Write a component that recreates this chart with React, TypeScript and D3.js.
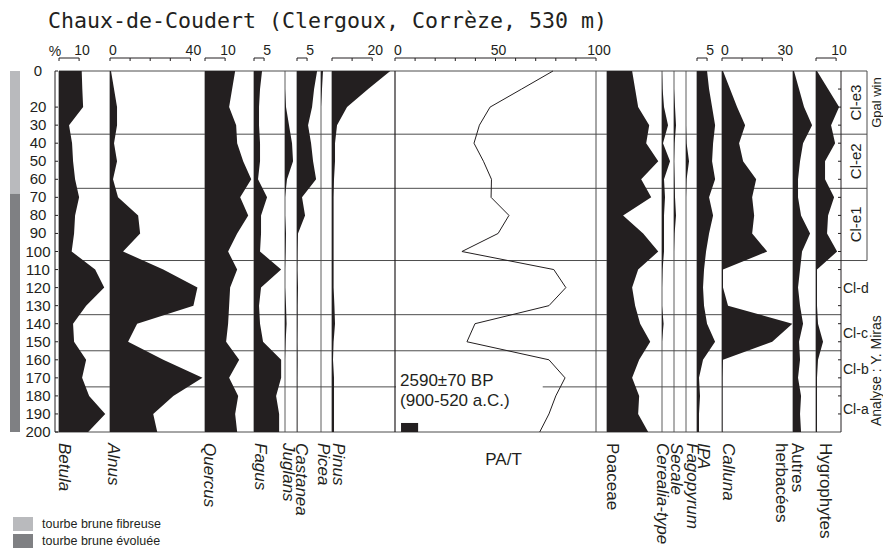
import React from 'react';
import * as d3 from 'd3';

// sample depths (cm)
const depths = [0, 10, 20, 30, 40, 50, 60, 70, 80, 90, 100, 110, 120, 130, 140, 150, 160, 170, 180, 190, 200];

// pollen percentages, one value per depth
const betula = [11.3, 11.6, 12, 5, 6.5, 7, 8, 10, 8, 7.5, 6.3, 18, 22.5, 13.5, 7, 7.5, 13.5, 11.5, 15, 23, 14.5];
const alnus = [0.5, 2, 3.5, 3.5, 2, 3.5, 1.5, 4, 14, 15, 6.5, 26.5, 43.5, 41.5, 13.5, 9, 26.5, 46, 31.5, 21.5, 23.5];
const quercus = [15, 13.5, 12, 15.5, 16, 19, 23, 17.5, 21.5, 16, 11.5, 16, 12.5, 12, 11.5, 10.5, 17, 12, 16.5, 15, 16];
const fagus = [4, 3, 2.5, 2.5, 3, 3, 2, 6.5, 3.5, 3.5, 3, 13.5, 3.5, 2.5, 3, 4.5, 13.5, 13.5, 11, 12.5, 12.5];
const juglans = [0, 0, 0.5, 2, 3.5, 4, 1, 0, 0, 0.5, 0.3, 0, 0, 0.5, 0.8, 0.3, 0, 0, 0, 0, 0];
const castanea = [10, 8.5, 7.5, 5.5, 7, 8, 9.5, 2.5, 4, 0.5, 0.3, 0.2, 0.5, 0.3, 0.3, 0.2, 0.3, 0.2, 0.2, 0.2, 0.2];
const picea = [1, 0.5, 0, 0, 0, 0, 0, 0, 0, 0, 0, 0, 0, 0, 0, 0, 0, 0, 0, 0, 0];
const pinus = [29, 18, 7.5, 2.5, 1.5, 1.5, 1, 0.8, 0.8, 0.8, 0.8, 0.8, 0.8, 1.2, 1.5, 0.8, 0.5, 1, 1, 1, 1];
const paT = [78.6, 63, 47.3, 42, 39.3, 44, 48, 47.8, 56.7, 51.3, 33.3, 79, 85, 76.6, 39.8, 35.8, 76.6, 84.6, 80, 76.6, 72];
const poaceae = [12.5, 14, 15.5, 21, 19.5, 25.5, 17, 22, 8, 18, 25.5, 15.5, 12.5, 14, 16.5, 21.5, 16, 12.5, 16, 15.5, 20.5];
const cerealia = [0, 0.3, 1, 3, 0.5, 4, 1, 1.5, 1, 1, 1, 0.3, 0, 0, 0.8, 0, 0, 0, 0, 0, 0];
const secale = [0, 0, 0.5, 1, 0.3, 0, 0.3, 0.5, 1, 0.3, 0, 0, 0, 0, 0, 0, 0, 0, 0, 0, 0];
const fagopyrum = [0, 0, 0, 0, 0.3, 1.5, 0.3, 0, 0, 0, 0, 0, 0, 0, 0, 0, 0, 0, 0, 0, 0];
const ipa = [5, 6, 7.5, 9, 8, 7.5, 9, 6, 8, 6, 4.5, 3.5, 3, 3.5, 5, 9, 3, 1, 1.5, 1, 1];
const calluna = [0.5, 4, 7.5, 11.5, 8.5, 10.5, 17, 15, 16, 15, 22.5, 0.5, 0.5, 3, 35, 25, 0.5, 0.3, 0.3, 0.3, 0.3];
const autres = [0.5, 3, 5.5, 9.5, 5, 3.5, 2.5, 2.5, 4, 8.5, 4.5, 3.5, 2.5, 3.5, 5, 3, 3.5, 2.5, 4, 3.5, 4];
const hygro = [0.5, 6, 11.5, 7.5, 9.5, 4.5, 4.5, 9, 6, 5.5, 10.5, 0.5, 0.5, 0.5, 1, 3.5, 1, 0.5, 0.5, 0.5, 0.5];

// zone boundaries (cm) and zone names
const zoneBounds = [35, 65, 105, 135, 155, 175];
const zoneNames = ['Cl-e3', 'Cl-e2', 'Cl-e1', 'Cl-d', 'Cl-c', 'Cl-b', 'Cl-a'];
const zoneTops = [0, 35, 65, 105, 135, 155, 175];
const zoneBots = [35, 65, 105, 135, 155, 175, 200];

// depth axis labels
const depthTicks = [0, 20, 30, 40, 50, 60, 70, 80, 90, 100, 110, 120, 130, 140, 150, 160, 170, 180, 190, 200];

// lithology
const lithoTops = [0, 68];
const lithoBots = [68, 200];
const lithoNames = ['tourbe brune fibreuse', 'tourbe brune évoluée'];

const datedSample = [195, 200];

const INK = '#231f20';
const GRID = '#4d4d4d';
const SANS = '"Liberation Sans", Arial, Helvetica, sans-serif';
const PX = 2.01; // px per percent

type Panel = {
  values: number[];
  x0: number;
  label: string[];
  italic: boolean;
  lx: number;
};

const panels: Panel[] = [
  { values: betula, x0: 59, label: ['Betula'], italic: true, lx: 59 },
  { values: alnus, x0: 110, label: ['Alnus'], italic: true, lx: 108 },
  { values: quercus, x0: 205, label: ['Quercus'], italic: true, lx: 204 },
  { values: fagus, x0: 254, label: ['Fagus'], italic: true, lx: 255 },
  { values: juglans, x0: 285, label: ['Juglans'], italic: true, lx: 283 },
  { values: castanea, x0: 297, label: ['Castanea'], italic: true, lx: 296 },
  { values: picea, x0: 321, label: ['Picea'], italic: true, lx: 318 },
  { values: pinus, x0: 332, label: ['Pinus'], italic: true, lx: 333 },
  { values: poaceae, x0: 607, label: ['Poaceae'], italic: false, lx: 607 },
  { values: cerealia, x0: 662, label: ['Cerealia-type'], italic: true, lx: 657 },
  { values: secale, x0: 674, label: ['Secale'], italic: true, lx: 671 },
  { values: fagopyrum, x0: 686, label: ['Fagopyrum'], italic: true, lx: 687 },
  { values: ipa, x0: 697, label: ['IPA'], italic: true, lx: 698 },
  { values: calluna, x0: 722, label: ['Calluna'], italic: true, lx: 723 },
  { values: autres, x0: 793, label: ['Autres', 'herbacées'], italic: false, lx: 792 },
  { values: hygro, x0: 816, label: ['Hygrophytes'], italic: false, lx: 820 },
];

// scale bars on top: start, max, step, labelled values
const bars = [
  { x0: 59, max: 10, step: 10, labels: [10] },
  { x0: 110, max: 40, step: 10, labels: [0, 40] },
  { x0: 205, max: 10, step: 10, labels: [10] },
  { x0: 254, max: 5, step: 5, labels: [5] },
  { x0: 297, max: 5, step: 5, labels: [5] },
  { x0: 332, max: 20, step: 10, labels: [20] },
  { x0: 395, max: 100, step: 10, labels: [0, 50, 100] },
  { x0: 697, max: 5, step: 5, labels: [5] },
  { x0: 722, max: 30, step: 10, labels: [0, 30] },
  { x0: 816, max: 10, step: 10, labels: [10] },
];

export default function App() {
  const W = 883;
  const H = 548;
  const y = d3.scaleLinear().domain([0, 200]).range([71, 432]);
  const pct = (x0: number) => d3.scaleLinear().domain([0, 100]).range([x0, x0 + 100 * PX]);
  const xLeft = 59;
  const xAxisR = 841;
  const xBox = 867;
  const pa = pct(395);

  const paLine = d3
    .line<number>()
    .x((v) => pa(v))
    .y((_, i) => y(depths[i]));

  return (
    <svg
      width={W}
      height={H}
      viewBox={`0 0 ${W} ${H}`}
      style={{ position: 'absolute', left: 0, top: 0, background: '#fff' }}
      fontFamily={SANS}
    >
      <rect width={W} height={H} fill="#fff" />

      <text x={48} y={28} fontFamily='"DejaVu Sans Mono", monospace' fontSize={21.6} fill={INK}>
        Chaux-de-Coudert (Clergoux, Corrèze, 530 m)
      </text>

      {/* lithology column */}
      {lithoTops.map((t, i) => (
        <rect key={'l' + i} x={10} y={y(t)} width={10} height={y(lithoBots[i]) - y(t)} fill={i === 0 ? '#b9babd' : '#7f8083'} />
      ))}

      {/* zone lines and frame */}
      <line x1={xLeft} x2={xBox} y1={y(0)} y2={y(0)} stroke={GRID} />
      <line x1={55} x2={xAxisR} y1={y(200)} y2={y(200)} stroke={GRID} />
      {zoneBounds.map((d, i) => (
        <line key={'z' + i} x1={xLeft} x2={i < 3 ? xBox : xAxisR} y1={y(d)} y2={y(d)} stroke={GRID} />
      ))}
      <line x1={xBox} x2={xBox} y1={y(0)} y2={y(105)} stroke={GRID} />

      {/* panel baselines */}
      {panels.map((p, i) => (
        <line key={'b' + i} x1={p.x0} x2={p.x0} y1={y(0)} y2={y(200)} stroke={GRID} strokeWidth={0.9} />
      ))}
      <line x1={pa(0)} x2={pa(0)} y1={y(0)} y2={y(200)} stroke={INK} strokeWidth={1.2} />
      <line x1={pa(100)} x2={pa(100)} y1={y(0)} y2={y(200)} stroke={GRID} />

      {/* silhouettes */}
      {panels.map((p, i) => {
        const xs = pct(p.x0);
        const area = d3
          .area<number>()
          .y((_, j) => y(depths[j]))
          .x0(p.x0)
          .x1((v) => xs(v));
        return <path key={'a' + i} d={area(p.values) || ''} fill={INK} />;
      })}

      {/* PA/T */}
      <rect x={pa(0) + 1} y={y(171)} width={pa(73) - pa(0)} height={y(179) - y(171)} fill="#fff" />
      <path d={paLine(paT) || ''} fill="none" stroke={INK} strokeWidth={1} />
      <text x={pa(2.5)} y={y(175) - 1} fontSize={17} fill={INK}>2590±70 BP</text>
      <text x={pa(2.5)} y={y(175) + 19} fontSize={17} fill={INK}>(900-520 a.C.)</text>
      <rect x={pa(3)} y={y(datedSample[0])} width={pa(11.5) - pa(3)} height={y(datedSample[1]) - y(datedSample[0])} fill={INK} />
      <text x={pa(54)} y={465} fontSize={17} textAnchor="middle" fill={INK}>PA/T</text>

      {/* depth axis */}
      <line x1={55} x2={55} y1={y(0)} y2={y(200)} stroke={INK} />
      {depthTicks.map((d) => (
        <g key={'d' + d}>
          <line x1={55} x2={58} y1={y(d)} y2={y(d)} stroke={INK} />
          <text x={38} y={y(d) + 5} fontSize={15} textAnchor="middle" fill={INK}>{d}</text>
        </g>
      ))}

      {/* zone axis */}
      <line x1={xAxisR} x2={xAxisR} y1={y(0)} y2={y(200)} stroke={INK} />
      {d3.range(10, 200, 10).filter((d) => !zoneBounds.includes(d)).map((d) => (
        <line key={'t' + d} x1={xAxisR - 3} x2={xAxisR} y1={y(d)} y2={y(d)} stroke={INK} />
      ))}
      {zoneNames.map((n, i) => {
        const cy = (y(zoneTops[i]) + y(zoneBots[i])) / 2;
        return i < 3 ? (
          <text key={'zn' + n} transform={`translate(861,${cy}) rotate(-90)`} fontSize={15} textAnchor="middle" fill={INK}>{n}</text>
        ) : (
          <text key={'zn' + n} x={843} y={cy + 5} fontSize={14} fill={INK}>{n}</text>
        );
      })}
      <text transform={`translate(881,${(y(0) + y(35)) / 2}) rotate(-90)`} fontSize={13} textAnchor="middle" fill={INK}>Gpal win</text>
      <text transform={`translate(881,${y(166)}) rotate(-90)`} fontSize={14} textAnchor="middle" fill={INK}>Analyse : Y. Miras</text>

      {/* top scale bars */}
      <text x={55} y={56} fontSize={14} textAnchor="middle" fill={INK}>%</text>
      {bars.map((b, i) => {
        const xs = pct(b.x0);
        return (
          <g key={'sb' + i}>
            <line x1={xs(0)} x2={xs(b.max)} y1={58} y2={58} stroke={INK} />
            {d3.range(0, b.max + 0.001, b.step).map((t) => (
              <line key={t} x1={xs(t)} x2={xs(t)} y1={58} y2={61} stroke={INK} />
            ))}
            {b.labels.map((t) => (
              <text key={'lb' + t} x={xs(t) + 3} y={55} fontSize={14} textAnchor="middle" fill={INK}>{t}</text>
            ))}
          </g>
        );
      })}

      {/* taxon names */}
      {panels.map((p, i) => (
        <text
          key={'n' + i}
          transform={`translate(${p.lx},443) rotate(90)`}
          fontSize={17}
          fontStyle={p.italic ? 'italic' : 'normal'}
          fill={INK}
        >
          {p.label.map((s, j) => (
            <tspan key={j} x={0} dy={j === 0 ? 0 : 16}>{s}</tspan>
          ))}
        </text>
      ))}

      {/* legend */}
      {lithoNames.map((n, i) => (
        <g key={'lg' + i}>
          <rect x={13} y={517 + i * 17} width={20} height={14} fill={i === 0 ? '#b9babd' : '#7f8083'} />
          <text x={42} y={528 + i * 17} fontSize={12.5} fill={INK}>{n}</text>
        </g>
      ))}
    </svg>
  );
}
